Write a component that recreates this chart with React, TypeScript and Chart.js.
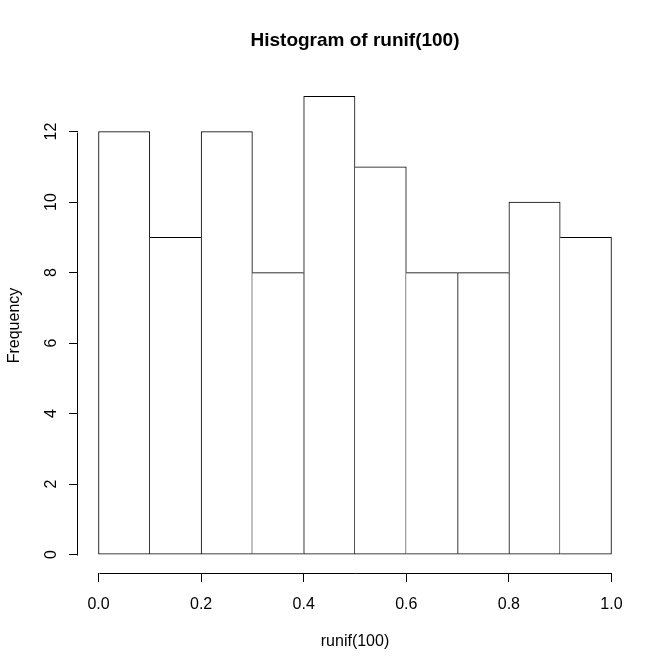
import React, { useEffect, useRef } from "react";
import { Chart, registerables } from "chart.js";

Chart.register(...registerables);

const TITLE = "Histogram of runif(100)";
const X_LABEL = "runif(100)";
const Y_LABEL = "Frequency";
const breaks = [0, 0.1, 0.2, 0.3, 0.4, 0.5, 0.6, 0.7, 0.8, 0.9, 1.0];
const counts = [12, 9, 12, 8, 13, 11, 8, 8, 10, 9];
const xTicks = [0, 0.2, 0.4, 0.6, 0.8, 1.0];
const yTicks = [0, 2, 4, 6, 8, 10, 12];
const xRange = [-0.04, 1.04];
const yRange = [-0.52, 13.52];

const FONT = "'Liberation Sans', Arial, Helvetica, sans-serif";

const rAxesPlugin = {
  id: "rAxes",
  afterDraw(chart: any) {
    const ctx = chart.ctx;
    const area = chart.chartArea;
    const xs = chart.scales.x;
    const ys = chart.scales.y;
    ctx.save();
    ctx.strokeStyle = "#000";
    ctx.lineWidth = 1;
    // x axis line
    const yLine = Math.round(area.bottom) + 0.5;
    ctx.beginPath();
    ctx.moveTo(Math.round(xs.getPixelForValue(xTicks[0])) + 0.5, yLine);
    ctx.lineTo(Math.round(xs.getPixelForValue(xTicks[xTicks.length - 1])) + 0.5, yLine);
    ctx.stroke();
    // y axis line
    const xLine = Math.round(area.left) - 0.5;
    ctx.beginPath();
    ctx.moveTo(xLine, Math.round(ys.getPixelForValue(yTicks[0])) + 0.5);
    ctx.lineTo(xLine, Math.round(ys.getPixelForValue(yTicks[yTicks.length - 1])) + 0.5);
    ctx.stroke();
    // y tick labels (rotated, R style)
    ctx.fillStyle = "#000";
    ctx.font = `16px ${FONT}`;
    ctx.textAlign = "center";
    ctx.textBaseline = "middle";
    for (const v of yTicks) {
      ctx.save();
      ctx.translate(52, ys.getPixelForValue(v));
      ctx.rotate(-Math.PI / 2);
      ctx.fillText(String(v), 0, 0);
      ctx.restore();
    }
    // title
    ctx.font = `bold 19px ${FONT}`;
    ctx.fillText(TITLE, (area.left + area.right) / 2, 41);
    ctx.restore();
  },
};

export default function App() {
  const ref = useRef<HTMLCanvasElement | null>(null);

  useEffect(() => {
    if (!ref.current) return;
    const data = counts.map((c, i) => ({ x: (breaks[i] + breaks[i + 1]) / 2, y: c }));
    const last = counts.length - 1;
    const chart = new Chart(ref.current, {
      type: "bar",
      data: {
        datasets: [
          {
            data: data as any,
            backgroundColor: "#ffffff",
            borderColor: "#000000",
            borderSkipped: false,
            borderWidth: (c: any) => {
              const i = c.dataIndex;
              return {
                top: 1,
                bottom: 1,
                left: i === 0 || counts[i] >= counts[i - 1] ? 1 : 0,
                right: i === last || counts[i] > counts[i + 1] ? 1 : 0,
              };
            },
            categoryPercentage: 1,
            barPercentage: 1,
          } as any,
        ],
      },
      options: {
        responsive: false,
        animation: false,
        devicePixelRatio: 1,
        layout: { padding: { top: 78, right: 40, left: 0, bottom: 0 } },
        plugins: {
          legend: { display: false },
          tooltip: { enabled: false },
          title: { display: false },
        },
        scales: {
          x: {
            type: "linear",
            offset: false,
            min: xRange[0],
            max: xRange[1],
            afterBuildTicks: (s: any) => {
              s.ticks = xTicks.map((v) => ({ value: v }));
            },
            afterFit: (s: any) => {
              s.height = 98;
            },
            grid: {
              display: true,
              offset: false,
              drawOnChartArea: false,
              drawTicks: true,
              tickLength: 9,
              color: "#000",
              lineWidth: 1,
            },
            border: { display: false },
            ticks: {
              autoSkip: false,
              maxRotation: 0,
              minRotation: 0,
              padding: 13,
              color: "#000",
              font: { family: FONT, size: 16 },
              callback: (v: any) => Number(v).toFixed(1),
            },
            title: {
              display: true,
              text: X_LABEL,
              color: "#000",
              font: { family: FONT, size: 16 },
              padding: { top: 0, bottom: 20 },
            },
          },
          y: {
            type: "linear",
            min: yRange[0],
            max: yRange[1],
            afterBuildTicks: (s: any) => {
              s.ticks = yTicks.map((v) => ({ value: v }));
            },
            afterFit: (s: any) => {
              s.width = 78;
            },
            grid: {
              display: true,
              drawOnChartArea: false,
              drawTicks: true,
              tickLength: 9,
              color: "#000",
              lineWidth: 1,
            },
            border: { display: false },
            ticks: { display: false },
            title: {
              display: true,
              text: Y_LABEL,
              color: "#000",
              font: { family: FONT, size: 16 },
              padding: { top: 5, bottom: 0 },
            },
          },
        },
      } as any,
      plugins: [rAxesPlugin],
    });
    return () => chart.destroy();
  }, []);

  return (
    <div style={{ position: "absolute", left: 0, top: 0, width: 672, height: 671, background: "#fff" }}>
      <canvas ref={ref} width={672} height={671} style={{ display: "block" }} />
    </div>
  );
}
